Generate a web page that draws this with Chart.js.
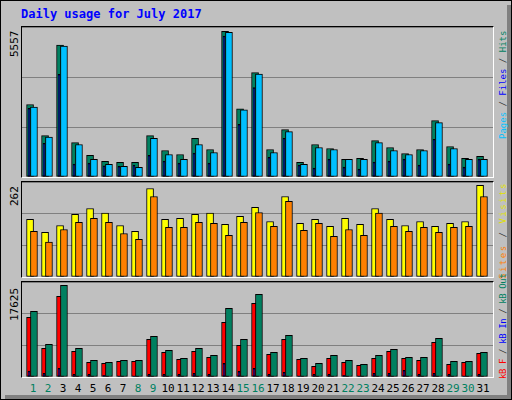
<!DOCTYPE html>
<html>
<head>
<meta charset="utf-8">
<script src="https://cdn.jsdelivr.net/npm/chart.js@4"></script>
<style>
  body { margin: 0; background: #fff; }
  #frame { position: absolute; left: 0; top: 0; width: 510px; height: 398px; border: 1px solid #000; background: #c0c0c0; overflow: hidden; font-family: "DejaVu Sans Mono", monospace; }
  #shadeR { position: absolute; right: 0; top: 4px; width: 4px; height: 394px; background: #808080; }
  #shadeB { position: absolute; left: 4px; bottom: 0; width: 506px; height: 4px; background: #808080; }
  .panel { position: absolute; left: 20px; width: 471px; border-top: 1px solid #000; border-left: 1px solid #000; border-right: 1px solid #fff; border-bottom: 1px solid #fff; }
  .panel canvas { display: block; }
  #title { position: absolute; left: 20px; top: 6px; color: #0000ff; font-weight: bold; font-size: 12px; }
  .vlab { position: absolute; transform-origin: left top; transform: rotate(-90deg); font-size: 11px; white-space: nowrap; line-height: 12px; }
  .leg { font-size: 9px; }
  .day { position: absolute; top: 381px; font-size: 11px; width: 20px; text-align: center; }
</style>
</head>
<body>
<div id="frame">
  <div id="shadeR"></div><div id="shadeB"></div>
  <div id="title">Daily usage for July 2017</div>
  <div class="panel" style="top:25px;height:150px"><canvas id="c1"></canvas></div>
  <div class="panel" style="top:180px;height:95px"><canvas id="c2"></canvas></div>
  <div class="panel" style="top:280px;height:95px"><canvas id="c3"></canvas></div>

  <div class="vlab" style="left:8px;top:56px;color:#000">5557</div>
  <div class="vlab" style="left:8px;top:205px;color:#000">262</div>
  <div class="vlab" style="left:8px;top:320px;color:#000">17625</div>

  <div class="vlab leg" style="left:496px;top:138px"><span style="color:#00c0ff">Pages</span><span style="color:#333"> / </span><span style="color:#0000ff">Files</span><span style="color:#333"> / </span><span style="color:#008060">Hits</span></div>
  <div class="vlab leg" style="left:496px;top:278px;letter-spacing:1.5px"><span style="color:#ff8000">Sites</span><span style="color:#333"> / </span><span style="color:#e0e000">Visits</span></div>
  <div class="vlab leg" style="left:496px;top:378px;letter-spacing:-0.4px"><span style="color:#ff0000">kB F</span><span style="color:#333"> / </span><span style="color:#0000ff">kB In</span><span style="color:#333"> / </span><span style="color:#008060">kB Out</span></div>
  <div id="days"></div>
</div>
<script>
const days = Array.from({length: 31}, (_, i) => i + 1);
const weekend = [1, 2, 8, 9, 15, 16, 22, 23, 29, 30];

const hits  = [2687,1534,4884,1276,799,578,541,541,1534,982,835,1435,1019,5398,2528,3864,1019,1755,541,1203,1056,651,688,1350,1093,872,1019,2086,1130,688,762];
const files = [2594,1483,4847,1203,651,467,394,357,1435,835,651,1203,909,5361,2491,3816,909,1682,467,1093,1019,651,651,1276,982,835,982,2013,1056,651,651];
const pages = [2540,1251,3802,478,515,416,394,441,799,589,515,883,515,5225,1950,3312,725,1435,441,331,662,368,294,552,589,662,441,1398,478,368,662];

const visits = [159,123,142,173,189,176,142,126,244,159,162,173,176,145,167,192,153,222,148,159,140,162,145,189,159,142,153,140,148,153,253];
const sites  = [126,96,131,151,162,151,120,104,222,137,137,151,148,115,151,178,140,209,129,148,112,131,115,176,140,126,137,123,137,140,222];

const kbF   = [11070,5318,14965,4762,2721,2535,2906,2906,6988,4576,3278,4762,3649,10142,5875,13667,4205,6988,3278,1979,3463,2721,2164,3463,4762,3463,3092,6431,2350,2721,4391];
const kbIn  = [1113,680,1608,495,495,309,186,186,495,495,495,680,495,2535,1051,1608,495,866,186,495,495,309,186,680,680,1237,495,680,495,186,495];
const kbOut = [12183,6060,17006,5318,3092,2721,3092,3092,7544,4947,3463,5318,4020,12739,6988,15336,4576,7730,3463,2535,4020,3092,2350,4020,5133,3649,3649,7173,2906,2906,4576];

const xMin = 0.333, xMax = 31.733;

const ds = (vals, off, color, thick, order) => ({
  data: vals.map((v, i) => ({x: days[i] + off, y: v})),
  backgroundColor: color,
  borderColor: "#000",
  borderWidth: 1,
  borderSkipped: false,
  barThickness: thick,
  grouped: false,
  order: order
});

const makeChart = (id, max, datasets) => new Chart(document.getElementById(id), {
  type: "bar",
  data: { datasets: datasets },
  options: {
    animation: false,
    responsive: true,
    maintainAspectRatio: false,
    layout: { padding: 0 },
    plugins: { legend: { display: false }, tooltip: { enabled: false } },
    scales: {
      x: { type: "linear", min: xMin, max: xMax, offset: false, bounds: "ticks", display: false },
      y: {
        min: 0, max: max,
        ticks: { display: false, stepSize: max / 3 },
        border: { display: false },
        grid: { color: "#808080", lineWidth: 1, drawTicks: false },
        afterFit: s => { s.width = 0; }
      }
    }
  }
});

makeChart("c1", 5557, [
  ds(files, 0.13, "#00c0ff", 7, 0),
  ds(pages, -0.2, "#0000ff", 2, 1),
  ds(hits, -0.13, "#008060", 7, 2)
]);
makeChart("c2", 262, [
  ds(sites, 0.13, "#ff8000", 7, 0),
  ds(visits, -0.13, "#ffff00", 7, 1)
]);
makeChart("c3", 17625, [
  ds(kbIn, -0.2, "#0000ff", 2, 0),
  ds(kbOut, 0.13, "#008060", 7, 1),
  ds(kbF, -0.13, "#ff0000", 7, 2)
]);

// day labels under the bottom panel
const dayBox = document.getElementById("days");
days.forEach(d => {
  const el = document.createElement("div");
  el.className = "day";
  el.textContent = d;
  el.style.left = (22 + (d - xMin) / (xMax - xMin) * 471 - 10) + "px";
  el.style.color = weekend.includes(d) ? "#008060" : "#000";
  dayBox.appendChild(el);
});
</script>
</body>
</html>
